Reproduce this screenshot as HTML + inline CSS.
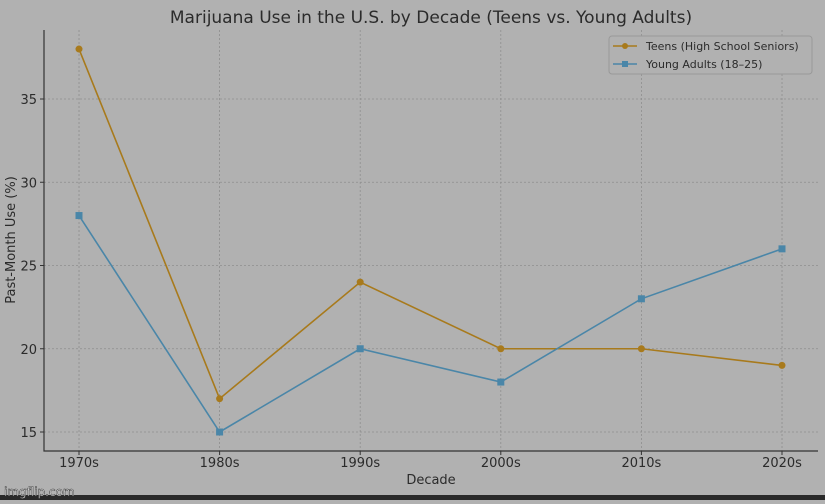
<!DOCTYPE html>
<html><head><meta charset="utf-8"><style>
body{margin:0;background:#b1b1b1;width:825px;height:500px;overflow:hidden;font-family:"DejaVu Sans","Liberation Sans",sans-serif}
</style></head><body>
<svg width="825" height="500">
<rect width="825" height="500" fill="#b1b1b1"/>
<rect y="495" width="825" height="5" fill="#2a2a2a"/>
<text x="431" y="23" text-anchor="middle" font-size="17" fill="#2b2b2b">Marijuana Use in the U.S. by Decade (Teens vs. Young Adults)</text>
<g id="grid"></g>
<g id="axes"></g>
<g id="series"></g>
<text x="431" y="484" text-anchor="middle" font-size="13" fill="#2b2b2b">Decade</text>
<text transform="translate(15,240) rotate(-90)" text-anchor="middle" font-size="13" fill="#2b2b2b">Past-Month Use (%)</text>
<g>
<rect x="609" y="36" width="203" height="38" rx="3" fill="#b1b1b1" stroke="#999"/>
<line x1="613" y1="46" x2="637" y2="46" stroke="#a87a1c" stroke-width="1.5"/><circle cx="625" cy="46" r="3" fill="#a87a1c"/>
<text x="646" y="50" font-size="11" fill="#2b2b2b">Teens (High School Seniors)</text>
<line x1="613" y1="64" x2="637" y2="64" stroke="#4a86a8" stroke-width="1.5"/><rect x="622" y="61" width="6" height="6" fill="#4a86a8"/>
<text x="646" y="68" font-size="11" fill="#2b2b2b">Young Adults (18–25)</text>
</g>
<text x="4" y="496" font-size="12" fill="#fff" stroke="#333" stroke-width="0.5">imgflip.com</text>
</svg>
<script>
const categories=["1970s","1980s","1990s","2000s","2010s","2020s"];
const teens=[38,17,24,20,20,19];
const youngAdults=[28,15,20,18,23,26];
const yTicks=[15,20,25,30,35];
const NS="http://www.w3.org/2000/svg";
const x=i=>79+i*140.6;
const y=v=>432-(v-15)*16.65;
function mk(t,a,p){const e=document.createElementNS(NS,t);for(const k in a)e.setAttribute(k,a[k]);p.appendChild(e);return e;}
const g=document.getElementById('grid'),ax=document.getElementById('axes'),s=document.getElementById('series');
categories.forEach((c,i)=>{
 mk('line',{x1:x(i),x2:x(i),y1:30,y2:451,stroke:'#8e8e8e','stroke-dasharray':'2,2','stroke-width':0.8},g);
 mk('line',{x1:x(i),x2:x(i),y1:451,y2:455,stroke:'#333'},ax);
 const t=mk('text',{x:x(i),y:467,'text-anchor':'middle','font-size':13,fill:'#2b2b2b'},ax);t.textContent=c;
 
 
});
yTicks.forEach(v=>{
 mk('line',{x1:44,x2:818,y1:y(v),y2:y(v),stroke:'#8e8e8e','stroke-dasharray':'2,2','stroke-width':0.8},g);
 mk('line',{x1:40,x2:44,y1:y(v),y2:y(v),stroke:'#333'},ax);
 const t=mk('text',{x:37,y:y(v)+5,'text-anchor':'end','font-size':13,fill:'#2b2b2b'},ax);t.textContent=v;
 
 
});
mk('polyline',{points:'44,30 44,451 818,451',fill:'none',stroke:'#333','stroke-width':1.2},ax);
function series(d,col,sq,name){
 const l=mk('polyline',{points:d.map((v,i)=>x(i)+','+y(v)).join(' '),fill:'none',stroke:col,'stroke-width':1.6},s);
 
 
 d.forEach((v,i)=>{
  const m=sq?mk('rect',{x:x(i)-3.5,y:y(v)-3.5,width:7,height:7,fill:col},s):mk('circle',{cx:x(i),cy:y(v),r:3.5,fill:col},s);
  
  
 });
}
series(teens,'#a87a1c',false,'teens');
series(youngAdults,'#4a86a8',true,'young-adults');
</script>
</body></html>
